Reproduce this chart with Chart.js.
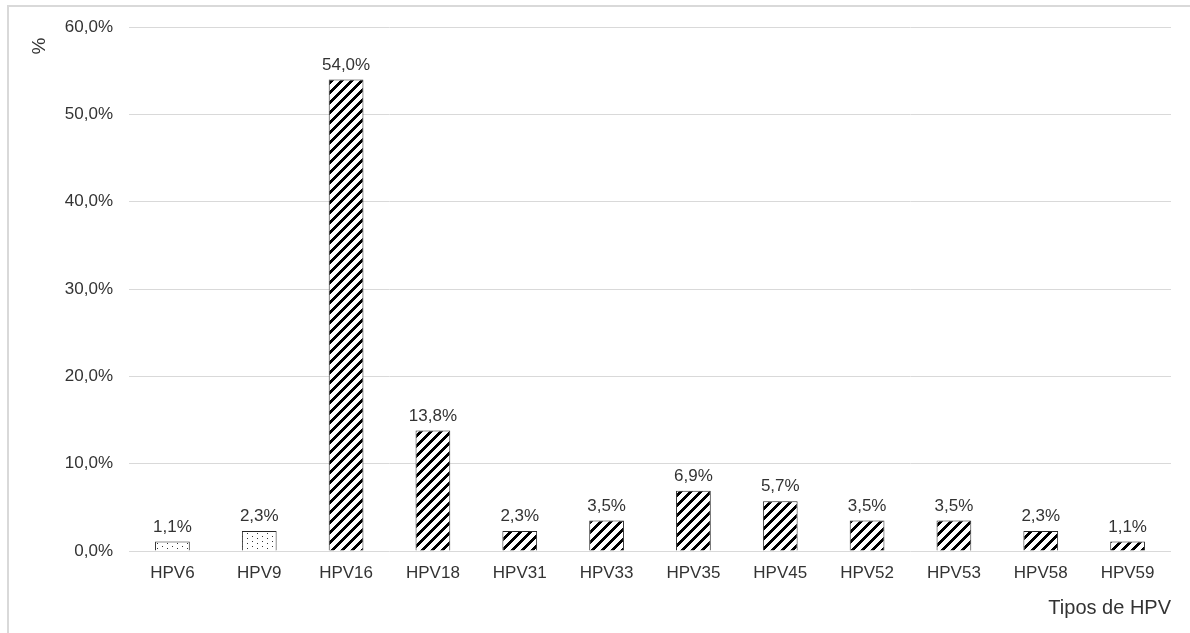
<!DOCTYPE html>
<html>
<head>
<meta charset="utf-8">
<script src="https://cdn.jsdelivr.net/npm/chart.js@4"></script>
<style>
  html, body { margin: 0; padding: 0; background: #fff; }
  #wrap { position: relative; width: 1190px; height: 633px; overflow: hidden; }
  #frame { position: absolute; left: 7px; top: 5px; width: 1200px; height: 700px;
           border-top: 2px solid #d9d9d9; border-left: 2px solid #d9d9d9; box-sizing: border-box; }
  canvas { position: absolute; left: 0; top: 0; }
</style>
</head>
<body>
<div id="wrap">
  <div id="frame"></div>
  <canvas id="hpvChart" width="1190" height="633"></canvas>
</div>
<script>
// Tipos de HPV e prevalência (%)
const tipos = ['HPV6', 'HPV9', 'HPV16', 'HPV18', 'HPV31', 'HPV33', 'HPV35', 'HPV45', 'HPV52', 'HPV53', 'HPV58', 'HPV59'];
const percentuais = [1.1, 2.3, 54.0, 13.8, 2.3, 3.5, 6.9, 5.7, 3.5, 3.5, 2.3, 1.1];
// tipos de baixo risco recebem padrão pontilhado, os demais listrado
const baixoRisco = ['HPV6', 'HPV9'];
const yTicks = [0, 10, 20, 30, 40, 50, 60];

const FONTE = "'Liberation Sans', Arial, sans-serif";
const COR_TEXTO = '#333333';

function fmt(v) {
    return v.toFixed(1).replace('.', ',') + '%';
}

// padrão de listras diagonais largas (/)
function padraoListras() {
    const c = document.createElement('canvas');
    c.width = 10; c.height = 10;
    const g = c.getContext('2d');
    g.fillStyle = '#fff';
    g.fillRect(0, 0, 10, 10);
    g.fillStyle = '#000';
    for (let x = 0; x < 10; x++) {
        for (let y = 0; y < 10; y++) {
            if ((x + y) % 10 < 4) g.fillRect(x, y, 1, 1);
        }
    }
    return g.createPattern(c, 'repeat');
}

// padrão de pontos esparsos (grade escalonada)
function padraoPontos() {
    const c = document.createElement('canvas');
    c.width = 10; c.height = 10;
    const g = c.getContext('2d');
    g.fillStyle = '#fff';
    g.fillRect(0, 0, 10, 10);
    g.fillStyle = '#333';
    [[2, 1], [7, 3], [2, 6], [7, 8]].forEach(([x, y]) => g.fillRect(x, y, 1, 1));
    return g.createPattern(c, 'repeat');
}

const listras = padraoListras();
const pontos = padraoPontos();

// rótulos de valor acima de cada barra e título vertical "%"
const rotulosValor = {
    id: 'rotulosValor',
    afterDatasetsDraw(chart) {
        const ctx = chart.ctx;
        const meta = chart.getDatasetMeta(0);
        ctx.save();
        ctx.font = '17px ' + FONTE;
        ctx.fillStyle = COR_TEXTO;
        ctx.textAlign = 'center';
        ctx.textBaseline = 'bottom';
        meta.data.forEach((bar, i) => {
            ctx.fillText(fmt(percentuais[i]), bar.x, bar.y - 6);
        });
        // título do eixo y
        ctx.translate(40, 46);
        ctx.rotate(-Math.PI / 2);
        ctx.font = '19px ' + FONTE;
        ctx.textBaseline = 'middle';
        ctx.fillText('%', 0, 0);
        ctx.restore();
    }
};

const ctx = document.getElementById('hpvChart').getContext('2d');
const chart = new Chart(ctx, {
    type: 'bar',
    data: {
        labels: tipos,
        datasets: [{
            data: percentuais,
            backgroundColor: tipos.map(t => baixoRisco.includes(t) ? pontos : listras),
            borderColor: '#262626',
            borderWidth: 1,
            barPercentage: 0.4,
            categoryPercentage: 1.0
        }]
    },
    options: {
        responsive: false,
        animation: false,
        devicePixelRatio: 1,
        layout: { padding: { left: 0, right: 19, top: 27, bottom: 0 } },
        plugins: {
            legend: { display: false },
            tooltip: { enabled: false }
        },
        scales: {
            x: {
                grid: { display: false, drawTicks: false },
                border: { display: false },
                ticks: {
                    color: COR_TEXTO,
                    font: { family: FONTE, size: 17 },
                    padding: 12,
                    maxRotation: 0
                },
                title: {
                    display: true,
                    text: 'Tipos de HPV',
                    align: 'end',
                    color: COR_TEXTO,
                    font: { family: FONTE, size: 20 },
                    padding: { top: 0, bottom: 13 }
                },
                afterFit(scale) { scale.height = 633 - 551; }
            },
            y: {
                min: 0,
                max: 60,
                afterBuildTicks(scale) {
                    scale.ticks = yTicks.map(v => ({ value: v }));
                },
                grid: { color: '#d9d9d9', lineWidth: 1, drawTicks: false },
                border: { display: false },
                ticks: {
                    color: COR_TEXTO,
                    font: { family: FONTE, size: 17 },
                    padding: 16,
                    callback: v => fmt(v)
                },
                afterFit(scale) { scale.width = 129; }
            }
        }
    },
    plugins: [rotulosValor]
});
</script>
</body>
</html>
